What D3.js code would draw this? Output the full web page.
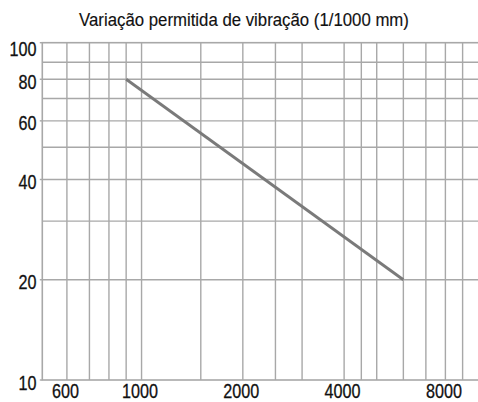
<!DOCTYPE html>
<html>
<head>
<meta charset="utf-8">
<script src="https://cdn.jsdelivr.net/npm/d3@7"></script>
<style>
  html, body { margin: 0; padding: 0; background: #fff; }
  svg { display: block; }
  text { font-family: "Liberation Sans", Arial, sans-serif; fill: #111; stroke: #111; stroke-width: 0.3px; }
</style>
</head>
<body>
<svg id="chart" width="478" height="402"></svg>
<script>
// Allowed vibration (1/1000 mm) against speed, log–log
const title = "Variação permitida de vibração (1/1000 mm)";
const xDomain = [507, 10000];
const yDomain = [10, 103];
const xTickLabels = [600, 1000, 2000, 4000, 8000];
const yTickLabels = [10, 20, 40, 60, 80, 100];
const xGrid = [600, 700, 800, 900, 1000, 1500, 2000, 2500, 3000, 4000, 4500, 5000, 6000, 7000, 8000, 9000];
const yGrid = [20, 30, 40, 50, 60, 70, 80, 90];
const lineX = [900, 6000];
const lineY = [80, 20];

const svg = d3.select("#chart");
const plotLeft = 42.3, plotRight = 478, plotTop = 42.7, plotBottom = 380;
const narrow = 0.83; // horizontal squeeze giving a condensed face

const x = d3.scaleLog().domain(xDomain).range([plotLeft, plotRight]);
const y = d3.scaleLog().domain(yDomain).range([plotBottom, plotTop]);

const gridColor = "#a8a8a8";

// grid
svg.append("g").selectAll("line").data(xGrid).join("line")
  .attr("x1", d => x(d)).attr("x2", d => x(d))
  .attr("y1", plotTop).attr("y2", plotBottom)
  .attr("stroke", gridColor).attr("stroke-width", 1.4);

svg.append("g").selectAll("line").data(yGrid).join("line")
  .attr("x1", plotLeft).attr("x2", plotRight)
  .attr("y1", d => y(d)).attr("y2", d => y(d))
  .attr("stroke", gridColor).attr("stroke-width", 1.4);

// frame
svg.append("rect")
  .attr("x", plotLeft).attr("y", plotTop)
  .attr("width", plotRight - plotLeft + 2).attr("height", plotBottom - plotTop)
  .attr("fill", "none").attr("stroke", gridColor).attr("stroke-width", 1.6);

// small ticks on the left for labelled values
svg.append("g").selectAll("line").data(yTickLabels).join("line")
  .attr("x1", plotLeft - 2.5).attr("x2", plotLeft)
  .attr("y1", d => d === 100 ? plotTop : y(d)).attr("y2", d => d === 100 ? plotTop : y(d))
  .attr("stroke", gridColor).attr("stroke-width", 1.4);

// axis labels
svg.append("g").selectAll("text").data(yTickLabels).join("text")
  .attr("transform", d => `translate(36.5,${y(d) + 9.5}) scale(${narrow},1)`)
  .attr("text-anchor", "end")
  .attr("font-size", 19.5)
  .text(d => d);

svg.append("g").selectAll("text").data(xTickLabels).join("text")
  .attr("transform", d => `translate(${x(d) - 1.5},398) scale(${narrow},1)`)
  .attr("text-anchor", "middle")
  .attr("font-size", 19.5)
  .text(d => d);

// title, squeezed to its set width
const titleText = svg.append("text")
  .attr("text-anchor", "middle")
  .attr("font-size", 18.5)
  .style("stroke-width", "0.15px")
  .text(title);
const titleWidth = 330;
const sx = titleWidth / titleText.node().getComputedTextLength();
titleText.attr("transform", `translate(244,26) scale(${sx},1)`);

// data line
const pts = lineX.map((v, i) => [v, lineY[i]]);
svg.append("path")
  .datum(pts)
  .attr("d", d3.line().x(d => x(d[0])).y(d => y(d[1])))
  .attr("fill", "none")
  .attr("stroke", "#7a7a7a")
  .attr("stroke-width", 2.8);
</script>
</body>
</html>
